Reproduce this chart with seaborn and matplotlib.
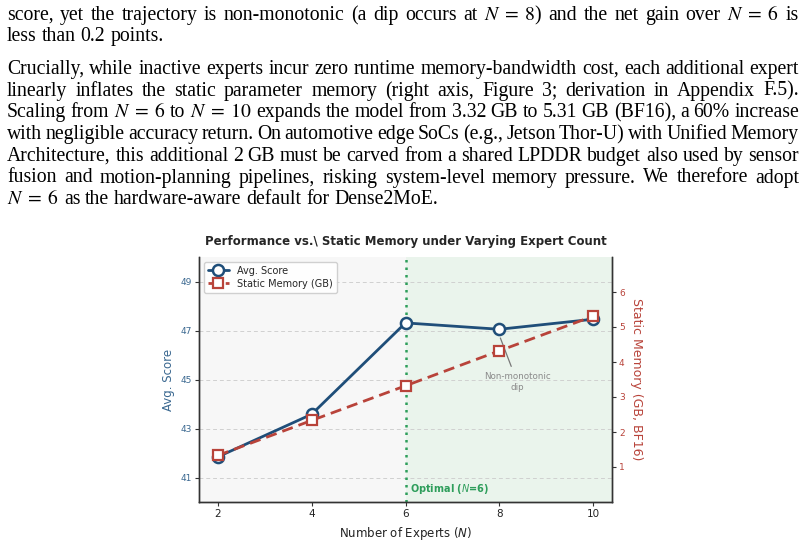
import numpy as np
import pandas as pd
import matplotlib
matplotlib.use("Agg")
import matplotlib.pyplot as plt
import seaborn as sns

# ---------------- data ----------------
experts = [2, 4, 6, 8, 10]
avg_score = [41.84, 43.58, 47.31, 47.05, 47.46]
static_memory_gb = [1.33, 2.33, 3.32, 4.32, 5.31]
x_ticks = [2, 4, 6, 8, 10]
left_ticks = [41, 43, 45, 47, 49]
right_ticks = [1, 2, 3, 4, 5, 6]

para1_lines = [
    "score, yet the trajectory is non-monotonic (a dip occurs at $N\\;=\\;8$) and the net gain over $N\\;=\\;6$ is",
    "less than 0.2 points.",
]
para2_lines = [
    "Crucially, while inactive experts incur zero runtime memory-bandwidth cost, each additional expert",
    "linearly inflates the static parameter memory (right axis, Figure 3; derivation in Appendix F.5).",
    "Scaling from $N\\;=\\;6$ to $N\\;=\\;10$ expands the model from 3.32 GB to 5.31 GB (BF16), a 60% increase",
    "with negligible accuracy return. On automotive edge SoCs (e.g., Jetson Thor-U) with Unified Memory",
    "Architecture, this additional 2 GB must be carved from a shared LPDDR budget also used by sensor",
    "fusion and motion-planning pipelines, risking system-level memory pressure. We therefore adopt",
    "$N\\;=\\;6$ as the hardware-aware default for Dense2MoE.",
]

df = pd.DataFrame({"experts": experts, "score": avg_score, "mem": static_memory_gb})

# ---------------- style ----------------
sns.set_theme(style="white")
plt.rcParams["font.family"] = ["DejaVu Sans"]

W, H = 808, 542
fig = plt.figure(figsize=(W / 100, H / 100), dpi=100)
fig.patch.set_facecolor("white")

BLUE = "#1f4e79"
BLUE_T = "#3a6890"
RED = "#b8433a"
GREEN = "#2e9e5b"

ax_l, ax_r, ax_t, ax_b = 199, 612, 257, 502
ax = fig.add_axes([ax_l / W, 1 - ax_b / H, (ax_r - ax_l) / W, (ax_b - ax_t) / H])
ax.set_facecolor("#f7f7f7")
ax.set_xlim(1.6, 10.4)
ax.set_ylim(40, 50)

ax.axvspan(6, 10.4, color="#eaf4ec", zorder=0, lw=0)
for yv in left_ticks:
    ax.axhline(yv, color="#d0d0d0", lw=0.7, ls=(0, (4, 3)), zorder=0.5)
ax.axvline(6, color=GREEN, lw=1.8, ls=(0, (1, 2)), zorder=1)

sns.lineplot(data=df, x="experts", y="score", ax=ax, color=BLUE, lw=2.0,
             marker="o", markersize=8, markerfacecolor="white",
             markeredgecolor=BLUE, markeredgewidth=1.8, label="Avg. Score", zorder=3)

ax2 = ax.twinx()
ax2.set_ylim(0, 7)
sns.lineplot(data=df, x="experts", y="mem", ax=ax2, color=RED, lw=2.0,
             marker="s", markersize=7, markerfacecolor="white",
             markeredgecolor=RED, markeredgewidth=1.6, label="Static Memory (GB)", zorder=3)
for ln in ax2.get_lines():
    ln.set_linestyle((0, (4, 2.2)))

ax.set_xticks(x_ticks)
ax.set_xticklabels([str(v) for v in x_ticks], fontsize=7.5, color="#222222")
ax.set_yticks(left_ticks)
ax.set_yticklabels([str(v) for v in left_ticks], fontsize=6.5, color=BLUE_T)
ax2.set_yticks(right_ticks)
ax2.set_yticklabels([str(v) for v in right_ticks], fontsize=6.5, color=RED)
ax.tick_params(axis="both", length=3, width=0.8, color="#333333", pad=2, left=True, bottom=True)
ax2.tick_params(axis="y", length=3, width=0.8, color="#333333", pad=2, right=True)

ax.set_xlabel("Number of Experts ($N$)", fontsize=8.5, color="#222222", labelpad=4)
ax.set_ylabel("Avg. Score", fontsize=8.5, color=BLUE_T, labelpad=4)
ax2.set_ylabel("Static Memory (GB, BF16)", fontsize=9, color=RED, rotation=270, labelpad=13)

for a in (ax, ax2):
    a.spines["top"].set_visible(False)
    for s in ("left", "bottom", "right"):
        a.spines[s].set_color("#333333")
        a.spines[s].set_linewidth(1.0)

ax.set_title("Performance vs.\\ Static Memory under Varying Expert Count",
             fontsize=8.5, fontweight="bold", pad=9)

# annotations
ax.text(6.1, 40.55, "Optimal ($N$=6)", color=GREEN, fontsize=7, fontweight="bold",
        ha="left", va="center", zorder=5)
ax.annotate("Non-monotonic\ndip", xy=(8.0, 46.8), xytext=(8.38, 44.9),
            ha="center", va="center", fontsize=6.3, color="#8a8a8a",
            arrowprops=dict(arrowstyle="-", color="#777777", lw=0.9), zorder=5)

# legend combining both axes
h1, l1 = ax.get_legend_handles_labels()
h2, l2 = ax2.get_legend_handles_labels()
if ax2.get_legend():
    ax2.get_legend().remove()
leg = ax.legend(h1 + h2, l1 + l2, loc="upper left", fontsize=7, frameon=True,
                borderpad=0.4, handlelength=2.2, labelspacing=0.3,
                bbox_to_anchor=(0.0, 1.0))
leg.get_frame().set_edgecolor("#cccccc")
leg.get_frame().set_facecolor("white")
leg.get_frame().set_alpha(0.9)
leg.set_zorder(10)

# ---------------- paragraph text ----------------
renderer = fig.canvas.get_renderer()
L, R = 7, 799
MIN_GAP = 3.2


def make_tokens(line, fs):
    return [fig.text(0, 0, tok, fontsize=fs, family="Liberation Serif",
                     math_fontfamily="stix", va="baseline", ha="left", color="black")
            for tok in line.split(" ")]


# choose font size so every justified line fits with at least MIN_GAP spacing
FS = 14.9
all_just = [para1_lines[0]] + para2_lines[:-1]
for _ in range(30):
    ok = True
    for line in all_just:
        ts = make_tokens(line, FS)
        tot = sum(t.get_window_extent(renderer).width for t in ts)
        for t in ts:
            t.remove()
        if tot + MIN_GAP * (len(ts) - 1) > (R - L):
            ok = False
            break
    if ok:
        break
    FS -= 0.1


def draw_line(line, y_px, justify):
    texts = make_tokens(line, FS)
    widths = [t.get_window_extent(renderer).width for t in texts]
    space = 0.25 * FS * 100 / 72
    if justify and len(texts) > 1:
        gap = (R - L - sum(widths)) / (len(texts) - 1)
    else:
        gap = space
    x = L
    for t, w in zip(texts, widths):
        t.set_position((x / W, 1 - y_px / H))
        x += w + gap


baselines1 = [20, 41]
for i, line in enumerate(para1_lines):
    draw_line(line, baselines1[i], i < len(para1_lines) - 1)
y0 = 74
for i, line in enumerate(para2_lines):
    draw_line(line, y0 + i * 21.7, i < len(para2_lines) - 1)

fig.savefig("out.png", dpi=100)
